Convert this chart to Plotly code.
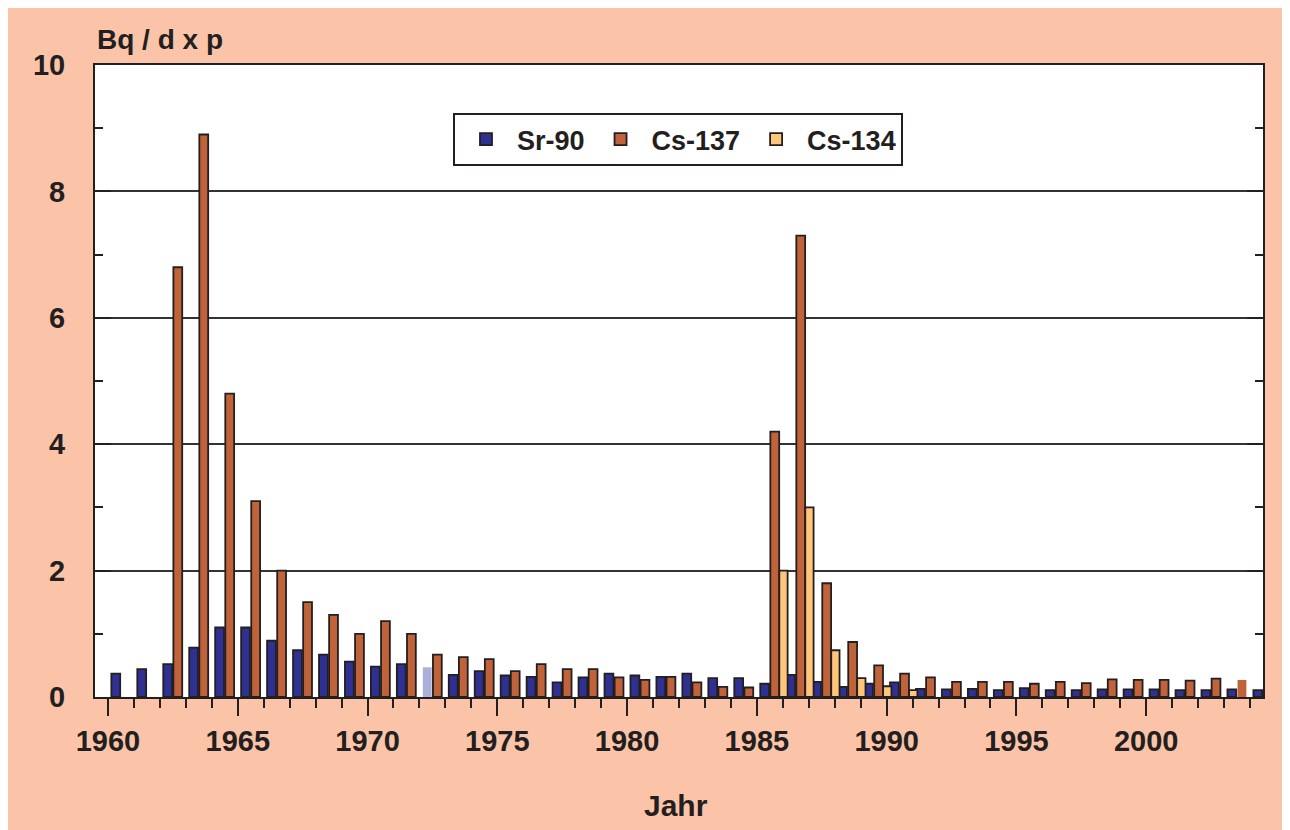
import plotly.graph_objects as go

years = list(range(1960, 2005))

sr90 = [0.37, 0.44, 0.52, 0.78, 1.10, 1.10, 0.89, 0.74, 0.67, 0.56,
        0.48, 0.52, 0.47, 0.35, 0.41, 0.34, 0.32, 0.23, 0.31, 0.37,
        0.34, 0.32, 0.37, 0.30, 0.30, 0.21, 0.35, 0.24, 0.16, 0.21,
        0.23, 0.13, 0.12, 0.13, 0.11, 0.14, 0.11, 0.11, 0.12, 0.12,
        0.12, 0.11, 0.11, 0.12, 0.11]

cs137 = [None, None, 6.8, 8.9, 4.8, 3.1, 2.0, 1.5, 1.3, 1.0,
         1.2, 1.0, 0.67, 0.63, 0.60, 0.41, 0.52, 0.44, 0.44, 0.31,
         0.27, 0.32, 0.23, 0.16, 0.15, 4.2, 7.3, 1.8, 0.87, 0.50,
         0.37, 0.31, 0.24, 0.24, 0.24, 0.21, 0.24, 0.22, 0.28, 0.27,
         0.27, 0.26, 0.29, 0.27, None]

cs134_years = [1985, 1986, 1987, 1988, 1989, 1990]
cs134 = [2.0, 3.0, 0.74, 0.30, 0.17, 0.11]

# years drawn without outline / pale (as in the original)
sr_pale_year = 1972
cs_plain_year = 2003

ink = "#231f20"
blue = "#2e3192"
brown = "#c0623a"
yellow = "#ffc57a"
peach = "#fbc4a8"

sr_colors = ["#abb0d8" if y == sr_pale_year else blue for y in years]
sr_lw = [0 if y == sr_pale_year else 1.8 for y in years]
cs_lw = [0 if y == cs_plain_year else 1.8 for y in years]

fig = go.Figure()
fig.add_trace(go.Bar(x=years, y=sr90, name="Sr-90", offset=0.13, width=0.34,
                     marker=dict(color=sr_colors, line=dict(color=ink, width=sr_lw))))
fig.add_trace(go.Bar(x=years, y=cs137, name="Cs-137", offset=0.52, width=0.34,
                     marker=dict(color=brown, line=dict(color=ink, width=cs_lw))))
fig.add_trace(go.Bar(x=cs134_years, y=cs134, name="Cs-134", offset=0.865, width=0.32,
                     marker=dict(color=yellow, line=dict(color=ink, width=1.8))))

# page body keeps its 8px white margin, which gives the white top/left edge
fig.update_layout(
    width=1282, height=822,
    margin=dict(l=87, r=27, t=57, b=133),
    paper_bgcolor=peach, plot_bgcolor="white",
    barmode="overlay",
    font=dict(family="Liberation Sans, Arial, sans-serif", size=29, color=ink, weight="bold"),
    legend=dict(orientation="h", x=0.3065, y=0.924, xanchor="left", yanchor="top",
                bgcolor="white", bordercolor=ink, borderwidth=2, itemwidth=52,
                font=dict(size=27, weight="bold")),
    showlegend=True,
)

fig.update_xaxes(range=[1959.5, 2004.5], tick0=1960, dtick=5,
                 ticks="outside", ticklen=17, tickwidth=2, tickcolor=ink,
                 minor=dict(dtick=1, tick0=1960, ticks="outside", ticklen=9,
                            tickwidth=2, tickcolor=ink),
                 showline=True, linecolor=ink, linewidth=2, mirror=True,
                 showgrid=False, zeroline=False)

fig.update_yaxes(range=[0, 10], dtick=2, ticks="inside", ticklen=16, tickwidth=2,
                 tickcolor=ink, ticklabelstandoff=22,
                 minor=dict(dtick=1, ticks="inside", ticklen=8, tickwidth=2,
                            tickcolor=ink, showgrid=False),
                 showline=True, linecolor=ink, linewidth=2, mirror="ticks",
                 showgrid=True, gridcolor="#333333", gridwidth=2, zeroline=False)

fig.add_annotation(text="Bq / d x p", xref="paper", yref="paper", x=0.0, y=1.041,
                   xanchor="left", yanchor="middle", showarrow=False, font=dict(size=28))
fig.add_annotation(text="Jahr", xref="paper", yref="paper", x=0.4974, y=-0.171,
                   xanchor="center", yanchor="middle", showarrow=False, font=dict(size=30))

fig.write_html("out.html")
